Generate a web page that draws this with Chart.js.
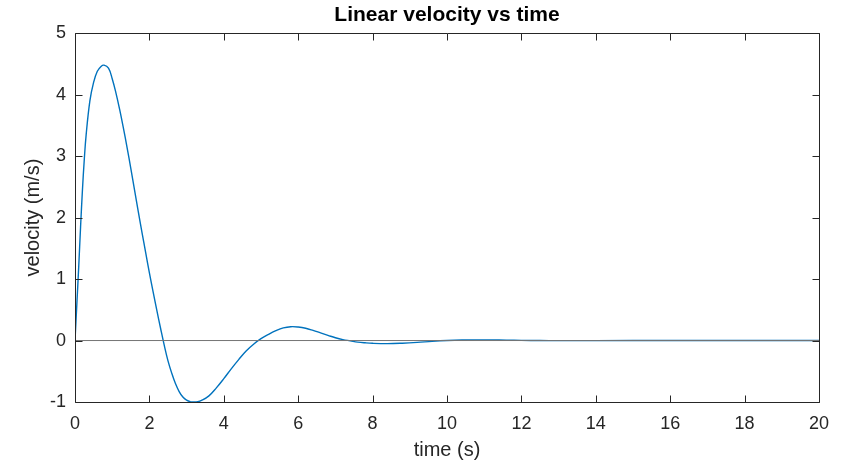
<!DOCTYPE html>
<html>
<head>
<meta charset="utf-8">
<title>Linear velocity vs time</title>
<script src="https://cdn.jsdelivr.net/npm/chart.js@4.4.0/dist/chart.umd.min.js"></script>
<style>
    html, body { margin: 0; padding: 0; background: #fff; }
    #wrap { width: 841px; height: 466px; }
</style>
</head>
<body>
<div id="wrap"><canvas id="velChart" width="841" height="466"></canvas></div>
<script>
// ── Data ──────────────────────────────────────────────────────────────────
var timeS = [
    0, 0.05, 0.1, 0.15, 0.2, 0.25, 0.3, 0.4, 0.5, 0.6, 0.7, 0.78, 0.9,
    1.0, 1.1, 1.2, 1.3, 1.4, 1.5, 1.6, 1.7, 1.8, 1.9, 2.0, 2.1, 2.2, 2.3,
    2.4, 2.5, 2.6, 2.7, 2.8, 2.9, 3.0, 3.1, 3.2, 3.3, 3.4, 3.6, 3.8,
    4.0, 4.2, 4.4, 4.6, 4.8, 5.0, 5.2, 5.4, 5.6, 5.8, 6.0, 6.2, 6.4,
    6.6, 6.8, 7.0, 7.2, 7.4, 7.6, 7.8, 8.0, 8.4, 8.8, 9.2, 9.6, 10.0, 10.4,
    10.8, 11.2, 11.6, 12.0, 12.5, 13.0, 14.0, 16.0, 18.0, 20.0
];
var velocity = [
    0, 0.6, 1.2, 1.85, 2.45, 2.95, 3.35, 3.9, 4.2, 4.38, 4.46, 4.48, 4.43,
    4.26, 4.03, 3.76, 3.46, 3.14, 2.8, 2.45, 2.1, 1.76, 1.43, 1.1, 0.79, 0.49, 0.2,
    -0.08, -0.33, -0.53, -0.7, -0.83, -0.92, -0.97, -0.995, -1.0, -0.995, -0.975, -0.9, -0.77,
    -0.62, -0.46, -0.31, -0.17, -0.06, 0.03, 0.1, 0.16, 0.205, 0.225, 0.22, 0.2, 0.165,
    0.125, 0.085, 0.045, 0.015, -0.005, -0.025, -0.037, -0.045, -0.05, -0.043, -0.03, -0.013, 0.0, 0.008,
    0.011, 0.01, 0.007, 0.003, 0, -0.002, -0.001, 0, 0, 0
];
var xTicks = [0, 2, 4, 6, 8, 10, 12, 14, 16, 18, 20];
var yTicks = [-1, 0, 1, 2, 3, 4, 5];
var zeroLine = [0, 20];

var FONT = "Arial, 'Liberation Sans', Helvetica, sans-serif";
var INK = '#262626';

// ── MATLAB-like box with inward ticks on all four sides ────────────────────
var boxPlugin = {
    id: 'matlabBox',
    afterDraw: function (chart) {
        var ctx = chart.ctx;
        var a = chart.chartArea;
        var sx = chart.scales.x, sy = chart.scales.y;
        var L = Math.round(a.left) + 0.5, R = Math.round(a.right) + 0.5;
        var T = Math.round(a.top) + 0.5, B = Math.round(a.bottom) + 0.5;
        var tl = 7;
        ctx.save();
        ctx.strokeStyle = INK;
        ctx.lineWidth = 1;
        ctx.beginPath();
        ctx.rect(L, T, R - L, B - T);
        xTicks.forEach(function (v) {
            var px = Math.round(sx.getPixelForValue(v)) + 0.5;
            ctx.moveTo(px, B); ctx.lineTo(px, B - tl);
            ctx.moveTo(px, T); ctx.lineTo(px, T + tl);
        });
        yTicks.forEach(function (v) {
            var py = Math.round(sy.getPixelForValue(v)) + 0.5;
            ctx.moveTo(L, py); ctx.lineTo(L + tl, py);
            ctx.moveTo(R, py); ctx.lineTo(R - tl, py);
        });
        ctx.stroke();
        ctx.restore();
    }
};

var curve = timeS.map(function (t, i) { return { x: t, y: velocity[i] }; });
var zero = zeroLine.map(function (t) { return { x: t, y: 0 }; });

new Chart(document.getElementById('velChart'), {
    type: 'line',
    data: {
        datasets: [
            {
                label: 'zero',
                data: zero,
                borderColor: '#747474',
                borderWidth: 1,
                pointRadius: 0,
                fill: false
            },
            {
                label: 'velocity',
                data: curve,
                borderColor: '#0072BD',
                borderWidth: 1.4,
                pointRadius: 0,
                fill: false,
                tension: 0.4
            }
        ]
    },
    options: {
        responsive: false,
        animation: false,
        layout: { padding: { left: 0, right: 22, top: 0, bottom: 0 } },
        plugins: {
            legend: { display: false },
            tooltip: { enabled: false },
            title: {
                display: true,
                fullSize: false,
                text: 'Linear velocity vs time',
                color: '#000',
                font: { family: FONT, size: 21, weight: 'bold' },
                padding: { top: 3, bottom: 5 }
            }
        },
        scales: {
            x: {
                type: 'linear',
                min: 0,
                max: 20,
                afterFit: function (s) { s.height = 64; },
                afterBuildTicks: function (s) { s.ticks = xTicks.map(function (v) { return { value: v }; }); },
                ticks: {
                    color: INK,
                    font: { family: FONT, size: 18 },
                    padding: 11,
                    maxRotation: 0
                },
                grid: { display: false, drawTicks: false },
                border: { display: false },
                title: {
                    display: true,
                    text: 'time (s)',
                    color: INK,
                    font: { family: FONT, size: 20 },
                    padding: { top: 0, bottom: 4 }
                }
            },
            y: {
                type: 'linear',
                min: -1,
                max: 5,
                afterFit: function (s) { s.width = 75; },
                afterBuildTicks: function (s) { s.ticks = yTicks.map(function (v) { return { value: v }; }); },
                ticks: {
                    color: INK,
                    font: { family: FONT, size: 18 },
                    padding: 9
                },
                grid: { display: false, drawTicks: false },
                border: { display: false },
                title: {
                    display: true,
                    text: 'velocity (m/s)',
                    color: INK,
                    font: { family: FONT, size: 20 },
                    padding: { top: 21, bottom: 0 }
                }
            }
        }
    },
    plugins: [boxPlugin]
});
</script>
</body>
</html>
